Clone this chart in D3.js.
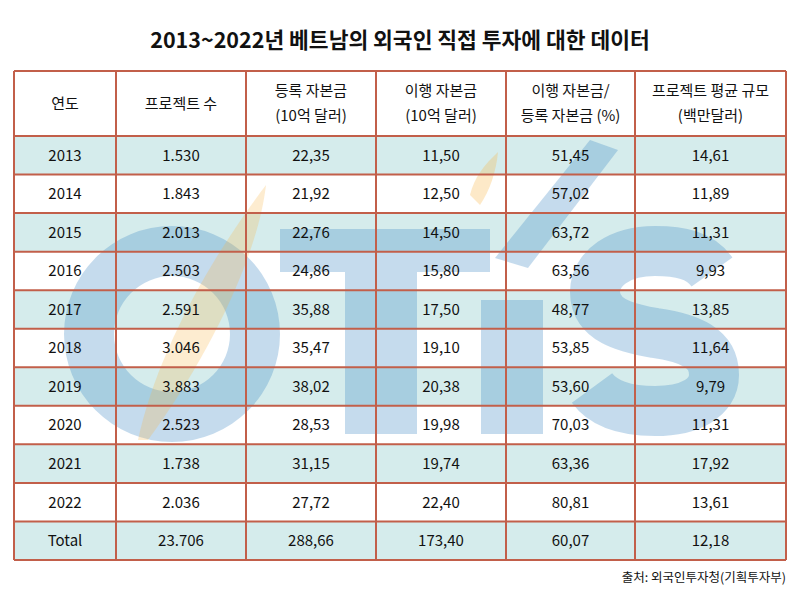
<!DOCTYPE html>
<html>
<head>
<meta charset="utf-8">
<script src="https://cdn.jsdelivr.net/npm/d3@7"></script>
<style>
  html, body { margin: 0; padding: 0; background: #fff; }
  svg { display: block; }
</style>
</head>
<body>
<svg id="chart" width="800" height="600"></svg>
<script>
// ---- data ----
const title = "2013~2022년 베트남의 외국인 직접 투자에 대한 데이터";
const headers = [
  ["연도"],
  ["프로젝트 수"],
  ["등록 자본금", "(10억 달러)"],
  ["이행 자본금", "(10억 달러)"],
  ["이행 자본금/", "등록 자본금 (%)"],
  ["프로젝트 평균 규모", "(백만달러)"]
];
const years = ["2013","2014","2015","2016","2017","2018","2019","2020","2021","2022","Total"];
const projects   = [1530, 1843, 2013, 2503, 2591, 3046, 3883, 2523, 1738, 2036, 23706];
const registered = [22.35, 21.92, 22.76, 24.86, 35.88, 35.47, 38.02, 28.53, 31.15, 27.72, 288.66];
const disbursed  = [11.50, 12.50, 14.50, 15.80, 17.50, 19.10, 20.38, 19.98, 19.74, 22.40, 173.40];
const ratio      = [51.45, 57.02, 63.72, 63.56, 48.77, 53.85, 53.60, 70.03, 63.36, 80.81, 60.07];
const avgSize    = [14.61, 11.89, 11.31, 9.93, 13.85, 11.64, 9.79, 11.31, 17.92, 13.61, 12.18];
const source = "출처: 외국인투자청(기획투자부)";

// ---- layout ----
const svg = d3.select("#chart");
const colEdges = [14, 116, 246, 376, 506, 635, 786];
const tableTop = 71, headerBottom = 136, tableBottom = 560;
const border = "#c25f4a", teal = "#d5ecec";
const font = "'Noto Sans CJK KR', 'Noto Sans', sans-serif";

const loc = d3.formatLocale({decimal: ",", thousands: ".", grouping: [3], currency: ["", ""]});
const fmtInt = loc.format(",d");
const fmtDec = loc.format(",.2f");

const rowScale = d3.scaleBand().domain(years).range([headerBottom, tableBottom]).padding(0);
const colScale = d3.scaleOrdinal().domain(d3.range(6)).range(colEdges.slice(0, 6));
const colW = i => colEdges[i + 1] - colEdges[i];

const rows = years.map((y, i) => [
  y, fmtInt(projects[i]), fmtDec(registered[i]), fmtDec(disbursed[i]), fmtDec(ratio[i]), fmtDec(avgSize[i])
]);

// title
svg.append("text")
  .attr("x", 400).attr("y", 48)
  .attr("text-anchor", "middle")
  .attr("font-family", font).attr("font-weight", 700).attr("font-size", 21.5)
  .attr("fill", "#111")
  .text(title);

// row fills
svg.append("g").selectAll("rect")
  .data(years)
  .join("rect")
  .attr("x", colEdges[0]).attr("y", d => rowScale(d))
  .attr("width", colEdges[6] - colEdges[0]).attr("height", rowScale.bandwidth())
  .attr("fill", (d, i) => i % 2 === 0 ? teal : "#fff");

// watermark (OTIS logo, approximated with shapes)
const wm = svg.append("g").attr("pointer-events", "none");
const blue = "#3f87c2", orange = "#f7b54a";
wm.append("path")
  .attr("d", d3.arc()({innerRadius: 58, outerRadius: 108, startAngle: 0, endAngle: 2 * Math.PI}))
  .attr("transform", "translate(172,334)")
  .attr("fill", blue).attr("opacity", 0.3);
wm.append("path")
  .attr("d", "M280,229 L490,229 L490,272 L417,272 L417,434 L345,434 L345,272 L280,272 Z")
  .attr("fill", blue).attr("opacity", 0.3);
wm.append("rect").attr("x", 481).attr("y", 300).attr("width", 62).attr("height", 134)
  .attr("fill", blue).attr("opacity", 0.3);
wm.append("path")
  .attr("d", "M495,258 L590,140 L618,150 L528,268 Z")
  .attr("fill", blue).attr("opacity", 0.3);
wm.append("path")
  .attr("d", "M712,272 C700,255 680,251 655,251 C620,251 595,268 595,292 C595,320 625,328 655,333 C690,338 714,348 714,375 C714,398 690,411 655,411 C625,411 603,403 592,388")
  .attr("fill", "none").attr("stroke", blue).attr("stroke-width", 50).attr("opacity", 0.3);
wm.append("path")
  .attr("d", "M470,195 C474,178 484,165 498,152 C496,172 490,190 480,205 Z")
  .attr("fill", orange).attr("opacity", 0.3);
wm.append("path")
  .attr("d", "M138,440 C155,360 205,265 266,185 C258,255 210,355 148,440 Z")
  .attr("fill", orange).attr("opacity", 0.26);

// grid lines
const grid = svg.append("g").attr("stroke", border).attr("stroke-width", 2).attr("fill", "none");
const hLines = [tableTop, headerBottom].concat(years.map(y => rowScale(y) + rowScale.bandwidth()));
grid.selectAll("line.h").data(hLines).join("line").attr("class", "h")
  .attr("x1", colEdges[0]).attr("x2", colEdges[6])
  .attr("y1", d => d).attr("y2", d => d);
grid.selectAll("line.v").data(colEdges).join("line").attr("class", "v")
  .attr("x1", d => d).attr("x2", d => d)
  .attr("y1", tableTop).attr("y2", tableBottom);

// headers
const hg = svg.append("g").attr("font-family", font).attr("font-size", 15).attr("fill", "#111")
  .attr("text-anchor", "middle");
headers.forEach((lines, i) => {
  const cx = colScale(i) + colW(i) / 2;
  const cy = (tableTop + headerBottom) / 2;
  const lh = 25;
  lines.forEach((t, j) => {
    hg.append("text")
      .attr("x", cx)
      .attr("y", cy + (j - (lines.length - 1) / 2) * lh)
      .attr("dy", "0.36em")
      .text(t);
  });
});

// body cells
const bg = svg.append("g").attr("font-family", font).attr("font-size", 15).attr("fill", "#111")
  .attr("text-anchor", "middle");
rows.forEach((r, ri) => {
  r.forEach((v, ci) => {
    bg.append("text")
      .attr("x", colScale(ci) + colW(ci) / 2)
      .attr("y", rowScale(years[ri]) + rowScale.bandwidth() / 2)
      .attr("dy", "0.36em")
      .text(v);
  });
});

// source
svg.append("text")
  .attr("x", 786).attr("y", 582)
  .attr("text-anchor", "end")
  .attr("font-family", font).attr("font-size", 12.5).attr("fill", "#111")
  .text(source);
</script>
</body>
</html>
